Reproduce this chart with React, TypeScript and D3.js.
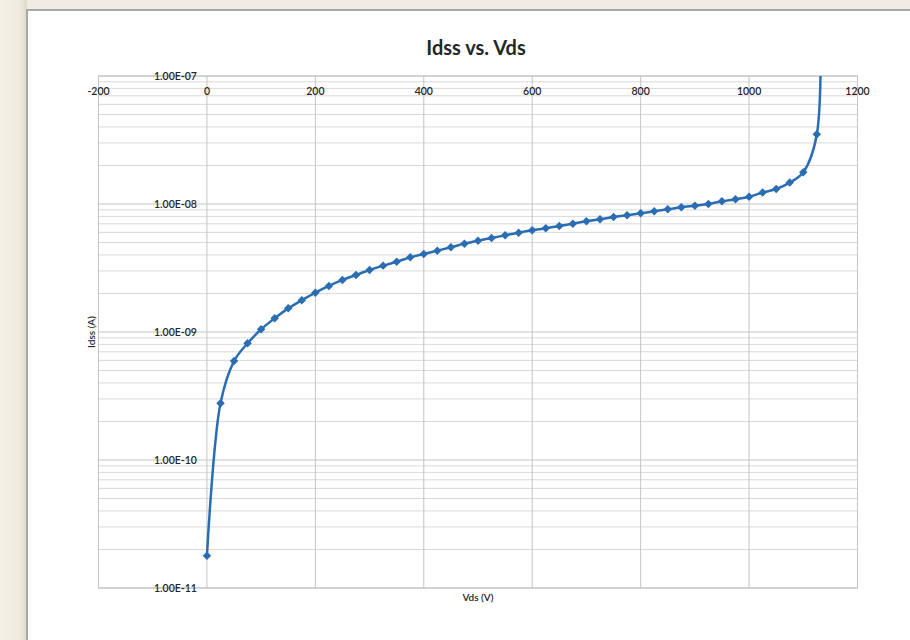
import React from "react";
import * as d3 from "d3";

const vds: number[] = [0, 25, 50, 75, 100, 125, 150, 175, 200, 225, 250, 275, 300, 325, 350, 375, 400, 425, 450, 475, 500, 525, 550, 575, 600, 625, 650, 675, 700, 725, 750, 775, 800, 825, 850, 875, 900, 925, 950, 975, 1000, 1025, 1050, 1075, 1100, 1125, 1130];
const idss: number[] = [1.79e-11, 2.77e-10, 5.93e-10, 8.16e-10, 1.05e-9, 1.28e-9, 1.53e-9, 1.77e-9, 2.03e-9, 2.29e-9, 2.55e-9, 2.79e-9, 3.05e-9, 3.3e-9, 3.54e-9, 3.83e-9, 4.07e-9, 4.32e-9, 4.59e-9, 4.9e-9, 5.17e-9, 5.42e-9, 5.69e-9, 5.97e-9, 6.23e-9, 6.46e-9, 6.73e-9, 7.02e-9, 7.33e-9, 7.59e-9, 7.91e-9, 8.16e-9, 8.46e-9, 8.77e-9, 9.09e-9, 9.42e-9, 9.7e-9, 1.0e-8, 1.05e-8, 1.09e-8, 1.14e-8, 1.23e-8, 1.31e-8, 1.47e-8, 1.77e-8, 3.51e-8, 1.0e-6];
const xTicks: number[] = [-200, 0, 200, 400, 600, 800, 1000, 1200];
const yTicks: number[] = [1e-7, 1e-8, 1e-9, 1e-10, 1e-11];
const yTickLabels: string[] = ["1.00E-07", "1.00E-08", "1.00E-09", "1.00E-10", "1.00E-11"];
const title = "Idss vs. Vds";
const xTitle = "Vds (V)";
const yTitle = "Idss (A)";

const W = 910;
const H = 640;
const L = 98.5, R = 857.5, T = 76, B = 588;
const blue = "#2a6db3";
const font = "Lato, 'Open Sans', sans-serif";

export default function App() {
  const x = d3.scaleLinear().domain([-200, 1200]).range([L, R]);
  const y = d3.scaleLog().domain([1e-11, 1e-7]).range([B, T]);
  const pts: [number, number][] = vds.map((v, i) => [x(v), y(idss[i])]);
  const line = d3.line().curve(d3.curveCatmullRom.alpha(0.5))(pts) || "";
  const minor: number[] = [];
  for (let e = -11; e < -7; e++) {
    for (let m = 2; m <= 9; m++) minor.push(m * Math.pow(10, e));
  }
  const diamond = d3.symbol().type(d3.symbolSquare).size(36)() || "";

  return (
    <svg width={W} height={H} style={{ position: "absolute", left: 0, top: 0 }} fontFamily={font}>
      <defs>
        <linearGradient id="bg" x1="0" x2="1" y1="0" y2="0">
          <stop offset="0" stopColor="#f3f1e6" />
          <stop offset="0.7" stopColor="#eeebdf" />
          <stop offset="1" stopColor="#dcd9cd" />
        </linearGradient>
        <clipPath id="clip">
          <rect x={L} y={T} width={R - L} height={B - T} />
        </clipPath>
      </defs>
      <rect x={0} y={0} width={W} height={H} fill="#efede3" />
      <rect x={0} y={0} width={27} height={H} fill="url(#bg)" />
      <rect x={26} y={9} width={W} height={H} fill="#a8a8a8" />
      <rect x={28} y={11} width={W} height={H} fill="#ffffff" />

      {minor.map((v, i) => (
        <line key={"m" + i} x1={L} x2={R} y1={y(v)} y2={y(v)} stroke="#d9d9d9" strokeWidth={1} />
      ))}
      {yTicks.map((v, i) => (
        <line key={"ym" + i} x1={L} x2={R} y1={y(v)} y2={y(v)} stroke="#c4c4c4" strokeWidth={1} />
      ))}
      {xTicks.map((v, i) => (
        <line key={"xg" + i} x1={x(v)} x2={x(v)} y1={T} y2={B} stroke="#c4c4c4" strokeWidth={1} />
      ))}
      <rect x={L} y={T} width={R - L} height={B - T} fill="none" stroke="#c4c4c4" strokeWidth={1} />

      {xTicks.map((v, i) => (
        <text key={"xt" + i} x={x(v)} y={T + 19} textAnchor="middle" fontSize={10.5} fontWeight={600} fill="#262626">
          {v}
        </text>
      ))}
      {yTicks.map((v, i) => (
        <text key={"yt" + i} x={x(0) - 10} y={y(v) + 3.5} textAnchor="end" fontSize={10.5} fontWeight={600} fill="#262626">
          {yTickLabels[i]}
        </text>
      ))}

      <g clipPath="url(#clip)">
        <path d={line} fill="none" stroke={blue} strokeWidth={2.5} />
        {pts.map((p, i) => (
          <path key={"d" + i} d={diamond} transform={`translate(${p[0]},${p[1]}) rotate(45)`} fill={blue} />
        ))}
      </g>

      <text x={476} y={55} textAnchor="middle" fontSize={20} fontWeight={700} fill="#262626">
        {title}
      </text>
      <text x={478} y={601} textAnchor="middle" fontSize={10} fontWeight={600} fill="#262626">
        {xTitle}
      </text>
      <text transform={`translate(95,332) rotate(-90)`} textAnchor="middle" fontSize={10} fontWeight={600} fill="#262626">
        {yTitle}
      </text>
    </svg>
  );
}
